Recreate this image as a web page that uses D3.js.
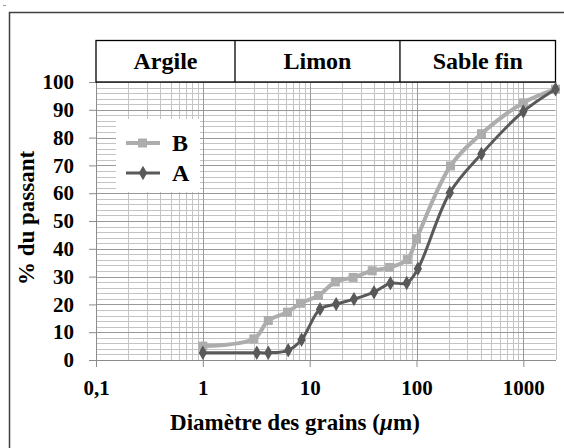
<!DOCTYPE html>
<html><head><meta charset="utf-8">
<script src="https://cdn.jsdelivr.net/npm/d3@7"></script>
<style>
html,body{margin:0;padding:0;background:#fff;}svg{display:block;}
svg text{font-family:"Liberation Serif","Times New Roman",Times,"DejaVu Serif",serif;font-weight:bold;fill:#000;}
</style>
</head><body>
<svg id="c" width="564" height="448"></svg>
<script>
// ---- data ----
const zones = ["Argile", "Limon", "Sable fin"];
const zoneLimits = [0.1, 2, 70, 2000];
const xTickValues = [0.1, 1, 10, 100, 1000];
const xTickLabels = ["0,1", "1", "10", "100", "1000"];
const yTickValues = [0, 10, 20, 30, 40, 50, 60, 70, 80, 90, 100];
const seriesNames = ["B", "A"];
const diamB = [1, 3.0, 4.1, 6.2, 8.2, 12.1, 17.4, 25.5, 38.5, 56, 82, 100, 208, 406, 1000, 2000];
const passB = [5.0, 7.6, 14.2, 17.2, 20.4, 23.2, 28.1, 29.7, 32.1, 33.3, 36.1, 43.6, 69.8, 81.4, 92.5, 97.4];
const diamA = [1, 3.2, 4.1, 6.3, 8.4, 12.5, 17.7, 26, 40, 57, 81, 103, 205, 405, 1000, 2000];
const passA = [2.6, 2.6, 2.6, 3.5, 7.3, 18.3, 20.1, 21.9, 24.4, 27.6, 27.7, 32.8, 60.2, 74.1, 89.4, 97.4];

const svg = d3.select("#c");

// small artifact + outer frame
svg.append("line").attr("x1", 3).attr("x2", 6).attr("y1", 5.5).attr("y2", 5.5).attr("stroke", "#999").attr("stroke-width", 1);
svg.append("path").attr("d", "M9.5,460 V12.5 H580").attr("fill", "none").attr("stroke", "#404040").attr("stroke-width", 1.5);

const x = d3.scaleLog().domain([0.1, 2000]).range([96, 555.5]);
const y = d3.scaleLinear().domain([0, 100]).range([360, 82]);

// grid
const g = svg.append("g");
const minorX = [];
for (let e = -1; e <= 3; e++) for (let m = 2; m <= 9; m++) { const v = m * Math.pow(10, e); if (v <= 2000) minorX.push(v); }
g.selectAll(".vx").data(minorX).join("line")
  .attr("x1", d => Math.round(x(d)) + 0.5).attr("x2", d => Math.round(x(d)) + 0.5)
  .attr("y1", y(0)).attr("y2", y(100)).attr("stroke", "#c4c4c4").attr("stroke-width", 1);
const minorY = d3.range(2, 101, 2).filter(v => v % 10 !== 0);
g.selectAll(".hy").data(minorY).join("line")
  .attr("x1", x(0.1)).attr("x2", x(2000))
  .attr("y1", d => Math.round(y(d)) + 0.5).attr("y2", d => Math.round(y(d)) + 0.5)
  .attr("stroke", "#c4c4c4").attr("stroke-width", 1);
g.selectAll(".my").data(yTickValues.filter(v => v > 0)).join("line")
  .attr("x1", x(0.1)).attr("x2", x(2000))
  .attr("y1", d => Math.round(y(d)) + 0.5).attr("y2", d => Math.round(y(d)) + 0.5)
  .attr("stroke", "#999").attr("stroke-width", 1);
g.selectAll(".mx").data(xTickValues.filter(v => v > 0.1)).join("line")
  .attr("x1", d => Math.round(x(d)) + 0.5).attr("x2", d => Math.round(x(d)) + 0.5)
  .attr("y1", y(0)).attr("y2", y(100)).attr("stroke", "#999").attr("stroke-width", 1);

// axes
const yAxis = svg.append("g").attr("transform", `translate(${x(0.1)},0)`)
  .call(d3.axisLeft(y).tickValues(yTickValues).tickSize(7).tickPadding(15).tickSizeOuter(0));
yAxis.attr("font-family", null);
yAxis.select(".domain").attr("stroke", "#8c8c8c");
yAxis.selectAll(".tick line").attr("stroke", "#8c8c8c");
yAxis.selectAll("text").style("font-size", "21px");

const xAxis = svg.append("g").attr("transform", `translate(0,${y(0)})`)
  .call(d3.axisBottom(x).tickValues(xTickValues).tickFormat((d, i) => xTickLabels[i]).tickSize(7).tickPadding(13).tickSizeOuter(0));
xAxis.attr("font-family", null);
xAxis.select(".domain").attr("stroke", "#8c8c8c");
xAxis.selectAll(".tick line").attr("stroke", "#8c8c8c");
xAxis.selectAll("text").style("font-size", "21px");

// axis titles
svg.append("text").attr("transform", "translate(34,218) rotate(-90)").attr("text-anchor", "middle")
  .style("font-size", "23px").text("% du passant");
const xt = svg.append("text").attr("x", 295).attr("y", 430).attr("text-anchor", "middle").style("font-size", "23px");
xt.append("tspan").text("Diamètre des grains (");
xt.append("tspan").attr("font-style", "italic").text("µ");
xt.append("tspan").text("m)");

// header zones
const hdr = svg.append("g");
hdr.append("rect").attr("x", x(0.1)).attr("y", 40.5).attr("width", x(2000) - x(0.1)).attr("height", y(100) - 40.5)
  .attr("fill", "#fff").attr("stroke", "#000").attr("stroke-width", 1.3);
hdr.selectAll(".dv").data(zoneLimits.slice(1, -1)).join("line")
  .attr("x1", d => x(d)).attr("x2", d => x(d)).attr("y1", 40.5).attr("y2", y(100))
  .attr("stroke", "#000").attr("stroke-width", 1.3);
hdr.selectAll(".zt").data(zones).join("text")
  .attr("x", (d, i) => (x(zoneLimits[i]) + x(zoneLimits[i + 1])) / 2)
  .attr("y", 69).attr("text-anchor", "middle").style("font-size", "24px").text(d => d);

// series
const line = d3.line().x(d => x(d[0])).y(d => y(d[1])).curve(d3.curveCatmullRom.alpha(0.5));
const ptsB = diamB.map((d, i) => [d, passB[i]]);
const ptsA = diamA.map((d, i) => [d, passA[i]]);
const colB = "#adadad", colA = "#595959";
svg.append("path").datum(ptsB).attr("d", line).attr("fill", "none").attr("stroke", colB).attr("stroke-width", 4);
svg.append("g").selectAll("rect").data(ptsB).join("rect")
  .attr("x", d => x(d[0]) - 4.5).attr("y", d => y(d[1]) - 4.5).attr("width", 9).attr("height", 9).attr("fill", colB);
svg.append("path").datum(ptsA).attr("d", line).attr("fill", "none").attr("stroke", colA).attr("stroke-width", 3);
const diamond = d3.symbol().type(d3.symbolDiamond).size(60);
svg.append("g").selectAll("path").data(ptsA).join("path")
  .attr("transform", d => `translate(${x(d[0])},${y(d[1])})`).attr("d", diamond).attr("fill", colA);

// legend
const lg = svg.append("g");
lg.append("rect").attr("x", 116).attr("y", 119).attr("width", 84).attr("height", 73).attr("fill", "#fff");
const legendItems = [{ name: seriesNames[0], col: colB, w: 4, type: "sq", cy: 143 }, { name: seriesNames[1], col: colA, w: 3, type: "di", cy: 173 }];
legendItems.forEach(it => {
  lg.append("line").attr("x1", 126).attr("x2", 160).attr("y1", it.cy).attr("y2", it.cy).attr("stroke", it.col).attr("stroke-width", it.w);
  if (it.type === "sq") lg.append("rect").attr("x", 138).attr("y", it.cy - 4.5).attr("width", 9).attr("height", 9).attr("fill", it.col);
  else lg.append("path").attr("transform", `translate(143,${it.cy})`).attr("d", diamond).attr("fill", it.col);
  lg.append("text").attr("x", 172).attr("y", it.cy + 8).style("font-size", "24px").text(it.name);
});
</script>
</body></html>
